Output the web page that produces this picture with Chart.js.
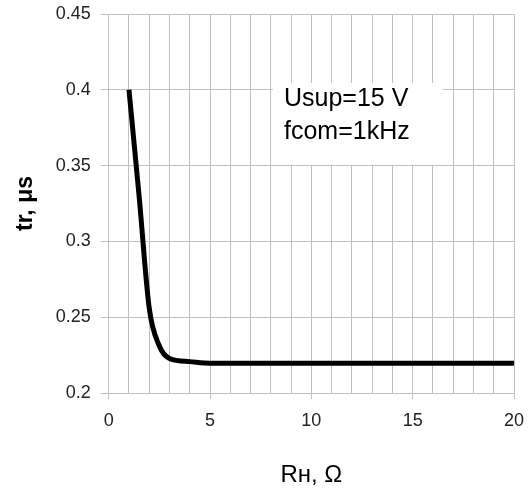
<!DOCTYPE html>
<html>
<head>
<meta charset="utf-8">
<script src="https://cdn.jsdelivr.net/npm/chart.js@4"></script>
<style>
  html, body { margin: 0; padding: 0; background: #fff; }
  #wrap { width: 532px; height: 488px; }
</style>
</head>
<body>
<div id="wrap"><canvas id="chart-tr"></canvas></div>
<script>
// tr vs load resistance
const resistance = [1, 1.5, 2, 2.5, 3, 4, 5, 6, 8, 10, 12, 15, 20];
const riseTime = [0.4, 0.33, 0.256, 0.231, 0.2228, 0.2207, 0.2197, 0.2196, 0.2196, 0.2197, 0.2197, 0.2197, 0.2197];
const xTickLabels = [0, 5, 10, 15, 20];
const yTickLabels = [0.2, 0.25, 0.3, 0.35, 0.4, 0.45];
const noteLines = ['Usup=15 V', 'fcom=1kHz'];

const GRID = '#c0c0c0';
const FONT = 'Liberation Sans, Arial, sans-serif';

// white note box on top of the grid
const notePlugin = {
  id: 'note',
  beforeDatasetsDraw(chart) {
    const { ctx, scales: { x, y } } = chart;
    const left = x.getPixelForValue(8.1), right = x.getPixelForValue(16.5);
    const top = y.getPixelForValue(0.4045), bottom = y.getPixelForValue(0.3505);
    ctx.save();
    ctx.fillStyle = '#fff';
    ctx.fillRect(left, top, right - left, bottom - top);
    ctx.fillStyle = '#000';
    ctx.font = '25px ' + FONT;
    ctx.textBaseline = 'alphabetic';
    ctx.fillText(noteLines[0], x.getPixelForValue(8.65), y.getPixelForValue(0.3895));
    ctx.fillText(noteLines[1], x.getPixelForValue(8.65), y.getPixelForValue(0.3675));
    ctx.restore();
  }
};

new Chart(document.getElementById('chart-tr'), {
  type: 'scatter',
  data: {
    datasets: [{
      data: resistance.map((r, i) => ({ x: r, y: riseTime[i] })),
      showLine: true,
      borderColor: '#000',
      borderWidth: 5,
      pointRadius: 0,
      cubicInterpolationMode: 'monotone'
    }]
  },
  options: {
    responsive: true,
    maintainAspectRatio: false,
    animation: false,
    layout: { padding: { top: 14, right: 18, left: 0, bottom: 0 } },
    plugins: { legend: { display: false }, tooltip: { enabled: false } },
    scales: {
      x: {
        type: 'linear',
        min: 0, max: 20,
        afterFit: (s) => { s.height = 95; s.paddingLeft = 0; s.paddingRight = 0; },
        afterBuildTicks: (s) => { s.ticks = Array.from({ length: 21 }, (_, i) => ({ value: i })); },
        grid: {
          color: GRID,
          tickLength: 6,
          tickColor: (c) => xTickLabels.includes(c.tick && c.tick.value) ? GRID : 'rgba(0,0,0,0)'
        },
        border: { color: GRID },
        ticks: {
          autoSkip: false,
          maxRotation: 0,
          padding: 11,
          color: '#222',
          font: { family: FONT, size: 18 },
          callback: (v) => xTickLabels.includes(v) ? String(v) : ''
        },
        title: {
          display: true,
          text: 'Rн, Ω',
          color: '#000',
          font: { family: FONT, size: 24 },
          padding: { top: 24, bottom: -2 }
        }
      },
      y: {
        min: 0.2, max: 0.45,
        afterFit: (s) => { s.width = 108.7; s.paddingTop = 0; s.paddingBottom = 0; },
        afterBuildTicks: (s) => { s.ticks = yTickLabels.map(v => ({ value: v })); },
        grid: { color: GRID, tickLength: 8, tickColor: GRID },
        border: { color: GRID },
        ticks: {
          padding: 10,
          color: '#222',
          font: { family: FONT, size: 18 },
          callback: (v) => String(+v.toFixed(2))
        },
        title: {
          display: true,
          text: 'tr, μs',
          color: '#000',
          font: { family: FONT, size: 23, weight: 'bold' },
          padding: { top: 12, bottom: 0 }
        }
      }
    }
  },
  plugins: [notePlugin]
});
</script>
</body>
</html>
